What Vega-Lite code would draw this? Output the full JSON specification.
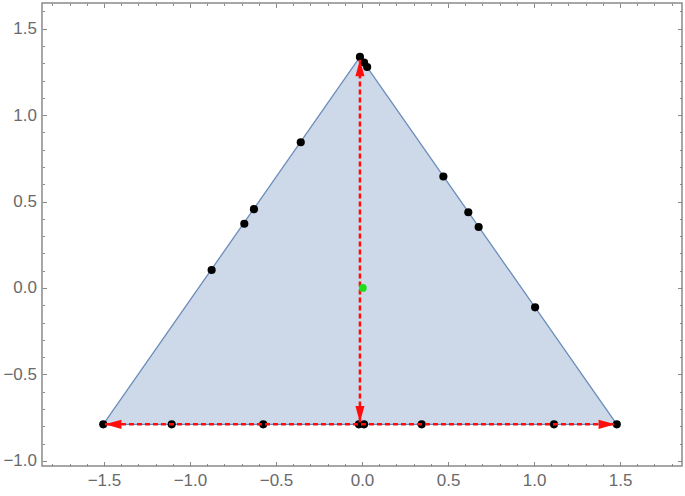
{
  "$schema": "https://vega.github.io/schema/vega-lite/v6.json",
  "autosize": "none",
  "width": 640,
  "height": 463,
  "padding": {"left": 42, "top": 3, "right": 3, "bottom": 30},
  "config": {
    "view": {"stroke": "#8a8a8a", "strokeWidth": 1.5},
    "axis": {
      "grid": false,
      "domain": false,
      "title": null,
      "tickColor": "#8a8a8a",
      "tickWidth": 1,
      "labelFont": "Liberation Sans",
      "labelFontSize": 17,
      "labelColor": "#6a6a6a",
      "labelFlush": false,
      "labelOverlap": false,
      "format": ".1f"
    }
  },
  "resolve": {"axis": {"x": "independent", "y": "independent"}},
  "layer": [
    {
      "data": {"values": [
        {"x": -1.504, "top": -0.789, "base": -0.789},
        {"x": -0.012, "top": 1.337, "base": -0.789},
        {"x": 1.481, "top": -0.789, "base": -0.789}
      ]},
      "mark": {"type": "area", "fill": "#cdd9e8", "stroke": "#6b8cba", "strokeWidth": 1.3},
      "encoding": {
        "x": {"field": "x", "type": "quantitative",
          "scale": {"domain": [-1.86, 1.86], "nice": false, "zero": false},
          "axis": {"orient": "bottom", "values": [-1.5, -1, -0.5, 0, 0.5, 1, 1.5], "tickSize": -4.5, "labelPadding": 11}},
        "y": {"field": "top", "type": "quantitative",
          "scale": {"domain": [-1.03, 1.649], "nice": false, "zero": false},
          "axis": {"orient": "left", "values": [-1, -0.5, 0, 0.5, 1, 1.5], "tickSize": -4.5, "labelPadding": 10}},
        "y2": {"field": "base"}
      }
    },
    {
      "data": {"values": [
        {"x": -0.012, "y": 1.337}, {"x": 0.012, "y": 1.305}, {"x": 0.030, "y": 1.279},
        {"x": -0.356, "y": 0.843}, {"x": -0.628, "y": 0.456}, {"x": -0.684, "y": 0.372}, {"x": -0.874, "y": 0.104},
        {"x": 0.473, "y": 0.645}, {"x": 0.618, "y": 0.438}, {"x": 0.678, "y": 0.353}, {"x": 1.006, "y": -0.112},
        {"x": -1.504, "y": -0.789}, {"x": -1.106, "y": -0.789}, {"x": -0.574, "y": -0.789},
        {"x": -0.018, "y": -0.789}, {"x": 0.012, "y": -0.789}, {"x": 0.347, "y": -0.789},
        {"x": 1.116, "y": -0.789}, {"x": 1.481, "y": -0.789}
      ]},
      "mark": {"type": "point", "filled": true, "color": "#000000", "opacity": 1, "size": 66},
      "encoding": {
        "x": {"field": "x", "type": "quantitative",
          "scale": {"domain": [-1.86, 1.86], "nice": false, "zero": false},
          "axis": {"orient": "bottom", "labels": false, "tickSize": -2.5,
            "values": [-1.8, -1.7, -1.6, -1.4, -1.3, -1.2, -1.1, -0.9, -0.8, -0.7, -0.6, -0.4, -0.3, -0.2, -0.1, 0.1, 0.2, 0.3, 0.4, 0.6, 0.7, 0.8, 0.9, 1.1, 1.2, 1.3, 1.4, 1.6, 1.7, 1.8]}},
        "y": {"field": "y", "type": "quantitative",
          "scale": {"domain": [-1.03, 1.649], "nice": false, "zero": false},
          "axis": {"orient": "left", "labels": false, "tickSize": -2.5,
            "values": [-0.9, -0.8, -0.7, -0.6, -0.4, -0.3, -0.2, -0.1, 0.1, 0.2, 0.3, 0.4, 0.6, 0.7, 0.8, 0.9, 1.1, 1.2, 1.3, 1.4, 1.6]}}
      }
    },
    {
      "data": {"values": [
        {"x": -1.494, "y": -0.789, "x2": 1.471, "y2": -0.789},
        {"x": -0.012, "y": -0.778, "x2": -0.012, "y2": 1.32}
      ]},
      "mark": {"type": "rule", "color": "#ff0d0d", "strokeWidth": 2.5, "strokeDash": [5, 3]},
      "encoding": {
        "x": {"field": "x", "type": "quantitative",
          "scale": {"domain": [-1.86, 1.86], "nice": false, "zero": false},
          "axis": {"orient": "top", "labels": false, "tickSize": -4.5, "values": [-1.5, -1, -0.5, 0, 0.5, 1, 1.5]}},
        "x2": {"field": "x2"},
        "y": {"field": "y", "type": "quantitative",
          "scale": {"domain": [-1.03, 1.649], "nice": false, "zero": false},
          "axis": {"orient": "right", "labels": false, "tickSize": -4.5, "values": [-1, -0.5, 0, 0.5, 1, 1.5]}},
        "y2": {"field": "y2"}
      }
    },
    {
      "data": {"values": [
        {"x": -1.494, "y": -0.789, "dir": "left"},
        {"x": 1.471, "y": -0.789, "dir": "right"},
        {"x": -0.012, "y": 1.32, "dir": "up"},
        {"x": -0.012, "y": -0.778, "dir": "down"}
      ]},
      "mark": {"type": "point", "filled": true, "color": "#ff0d0d", "opacity": 1, "size": 272},
      "encoding": {
        "x": {"field": "x", "type": "quantitative",
          "scale": {"domain": [-1.86, 1.86], "nice": false, "zero": false},
          "axis": {"orient": "top", "labels": false, "tickSize": -2.5,
            "values": [-1.8, -1.7, -1.6, -1.4, -1.3, -1.2, -1.1, -0.9, -0.8, -0.7, -0.6, -0.4, -0.3, -0.2, -0.1, 0.1, 0.2, 0.3, 0.4, 0.6, 0.7, 0.8, 0.9, 1.1, 1.2, 1.3, 1.4, 1.6, 1.7, 1.8]}},
        "y": {"field": "y", "type": "quantitative",
          "scale": {"domain": [-1.03, 1.649], "nice": false, "zero": false},
          "axis": {"orient": "right", "labels": false, "tickSize": -2.5,
            "values": [-0.9, -0.8, -0.7, -0.6, -0.4, -0.3, -0.2, -0.1, 0.1, 0.2, 0.3, 0.4, 0.6, 0.7, 0.8, 0.9, 1.1, 1.2, 1.3, 1.4, 1.6]}},
        "shape": {"field": "dir", "type": "nominal", "legend": null,
          "scale": {"domain": ["left", "right", "up", "down"],
            "range": ["M0,0L2,-0.55L2,0.55Z", "M0,0L-2,-0.55L-2,0.55Z", "M0,0L-0.55,2L0.55,2Z", "M0,0L-0.55,-2L0.55,-2Z"]}}
      }
    },
    {
      "data": {"values": [{"x": 0.005, "y": 0.0}]},
      "mark": {"type": "point", "filled": true, "color": "#1fdc1f", "opacity": 1, "size": 60},
      "encoding": {
        "x": {"field": "x", "type": "quantitative",
          "scale": {"domain": [-1.86, 1.86], "nice": false, "zero": false}, "axis": null},
        "y": {"field": "y", "type": "quantitative",
          "scale": {"domain": [-1.03, 1.649], "nice": false, "zero": false}, "axis": null}
      }
    }
  ]
}
